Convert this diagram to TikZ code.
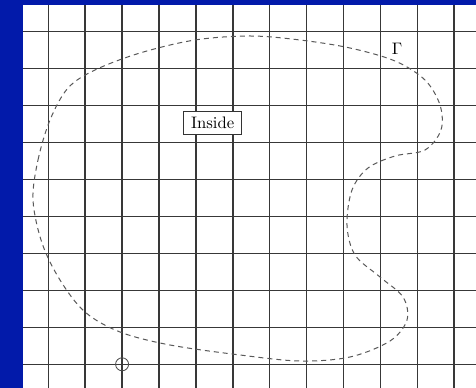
\documentclass[tikz,border=0pt]{standalone}
\usepackage{tikz}
\definecolor{bgblue}{RGB}{2,26,170}
\tikzset{
  gridline/.style={black!78, line width=0.85pt},
  curveline/.style={black!65, line width=0.6pt, dash pattern=on 3pt off 2.4pt},
  labelbox/.style={draw=black!80, line width=0.5pt, fill=white, inner xsep=4.5pt, inner ysep=3.6pt}
}
\begin{document}
\begin{tikzpicture}[x=0.6pt, y=-0.6pt]
				% blue frame and white sheet
				\fill[bgblue] (0,0) rectangle (476,388);
				\fill[white] (23,5) rectangle (476,388);
				\useasboundingbox (0,0) rectangle (476,388);
				
				% square grid
				\foreach \i in {0,...,11}
					\draw[gridline] (48.3+36.9*\i,5) -- (48.3+36.9*\i,388);
				\foreach \j in {0,...,9}
					\draw[gridline] (23,31.7+36.96*\j) -- (476,31.7+36.96*\j);
				
				% closed curve Gamma
				\draw[curveline] plot[smooth cycle, tension=0.55] coordinates {
					(33,200) (38,160) (50,120) (68,88) (95,70) (140,53) (195,40)
					(250,36) (300,40) (350,48) (395,61) (425,80) (440,105) (441,130)
					(425,150) (395,156) (368,168) (352,190) (347,225) (355,255)
					(380,277) (403,297) (407,320) (390,341) (350,357) (300,361)
					(240,355) (170,345) (120,332) (85,312) (60,280) (42,243)};
				
				\node (gamma) at (397,48.5) {$\Gamma$};
				\node[labelbox] (inside) at (212.7,122.8) {Inside};
				
				% small circle on a grid point
				\coordinate (P) at (122.1,364.3);
				\draw[black!70, line width=0.5pt] (P) circle[radius=3.9pt];
			\end{tikzpicture}
\end{document}
